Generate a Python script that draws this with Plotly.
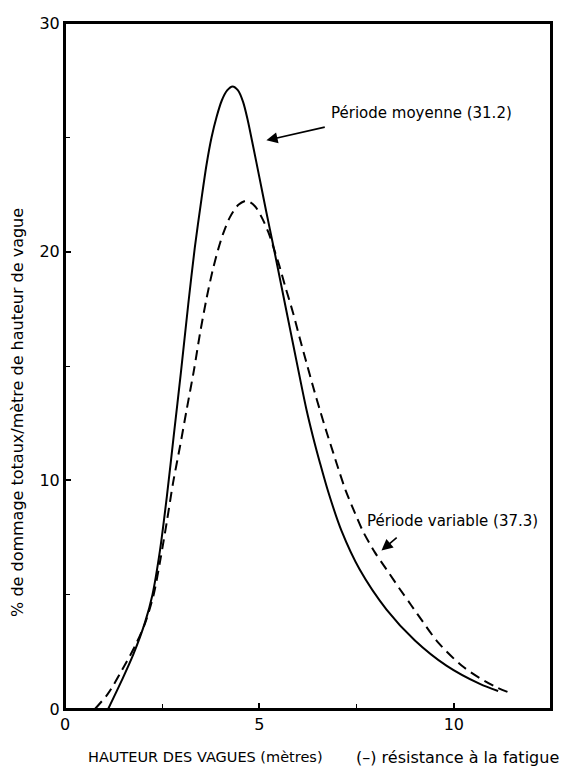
import plotly.graph_objects as go

# Solid curve: Période moyenne (31.2)
moy_x = [1.11, 1.46, 1.76, 2.06, 2.25, 2.44, 2.62, 2.80, 2.98, 3.17, 3.34, 3.51, 3.64, 3.77, 3.90,
         4.03, 4.17, 4.31, 4.45, 4.58, 4.70, 4.84, 5.00, 5.17, 5.36, 5.53, 5.70, 5.87, 6.04, 6.21,
         6.38, 6.56, 6.77, 7.11, 7.58, 8.27, 9.00, 9.81, 10.67, 11.14]
moy_y = [0.0, 1.25, 2.4, 3.8, 5.0, 6.9, 9.3, 12.0, 14.7, 17.7, 20.2, 22.3, 23.8, 25.0, 25.9,
         26.6, 27.05, 27.22, 27.05, 26.55, 25.75, 24.6, 23.25, 21.8, 20.24, 18.8, 17.36, 15.93, 14.49, 13.1,
         11.9, 10.75, 9.5, 7.8, 6.1, 4.35, 3.0, 1.9, 1.1, 0.79]

# Dashed curve: Période variable (37.3)
var_x = [0.77, 1.11, 1.46, 1.80, 2.06, 2.28, 2.46, 2.62, 2.78, 2.96, 3.13, 3.32, 3.47, 3.64, 3.80,
         3.94, 4.07, 4.24, 4.46, 4.67, 4.88, 5.06, 5.23, 5.36, 5.51, 5.66, 5.87, 6.04, 6.21, 6.38,
         6.56, 6.73, 6.90, 7.07, 7.22, 7.45, 7.67, 7.97, 8.27, 8.61, 8.90, 9.21, 9.60, 10.20, 10.67,
         11.10, 11.48]
var_y = [0.0, 0.68, 1.68, 2.75, 3.75, 5.0, 6.6, 8.2, 9.9, 11.5, 13.1, 14.85, 16.4, 17.95, 19.2,
         20.1, 20.8, 21.5, 22.05, 22.23, 22.0, 21.5, 20.85, 20.2, 19.4, 18.5, 17.3, 16.2, 15.15, 14.1,
         13.05, 12.1, 11.2, 10.3, 9.55, 8.6, 7.75, 6.85, 6.1, 5.25, 4.55, 3.8, 2.9, 1.9, 1.35,
         0.95, 0.68]

x_ticks = [0, 5, 10]
y_ticks = [0, 10, 20, 30]

FONT = "DejaVu Sans, Verdana, sans-serif"

fig = go.Figure()
fig.add_trace(go.Scatter(x=moy_x, y=moy_y, mode="lines",
                         line=dict(color="black", width=2, shape="spline", smoothing=0.8),
                         showlegend=False, hoverinfo="skip"))
fig.add_trace(go.Scatter(x=var_x, y=var_y, mode="lines",
                         line=dict(color="black", width=2, dash="10px,6px", shape="spline", smoothing=0.8),
                         showlegend=False, hoverinfo="skip"))

axis_common = dict(showline=True, linecolor="black", linewidth=2, mirror=True,
                   ticks="inside", ticklen=6, tickwidth=1.5, tickcolor="black",
                   showgrid=False, zeroline=False, ticklabeloverflow="allow",
                   tickfont=dict(family=FONT, size=16, color="black"))

fig.update_xaxes(range=[0, 12.5], tickvals=x_ticks, ticktext=[str(v) for v in x_ticks],
                 minor=dict(ticks="inside", ticklen=5, tickwidth=1.2, tickcolor="black", dtick=2.5, tick0=0),
                 **axis_common)
fig.update_yaxes(range=[0, 30], tickvals=y_ticks, ticktext=[str(v) for v in y_ticks],
                 minor=dict(ticks="inside", ticklen=5, tickwidth=1.2, tickcolor="black", dtick=5, tick0=0),
                 **axis_common)

# The page body has an 8px margin, so the figure starts at (8, 8) in the window.
OFF = 8
W, H = 575 - OFF, 769 - OFF
L, R, T, B = 65 - OFF, 24, 14 - OFF, 60
pw, ph = W - L - R, H - T - B

def px(xp):
    return (xp - OFF - L) / pw

def py(yp):
    return (H - B - (yp - OFF)) / ph

annotations = [
    # Période moyenne arrow + label
    dict(x=5.18, y=24.87, ax=6.72, ay=25.46, xref="x", yref="y", axref="x", ayref="y",
         text="", showarrow=True, arrowhead=2, arrowsize=1.4, arrowwidth=1.6, arrowcolor="black",
         standoff=0, startstandoff=0),
    dict(x=6.79, y=26.05, xref="x", yref="y", text="Période moyenne (31.2)", showarrow=False,
         xanchor="left", yanchor="middle", font=dict(family=FONT, size=15, color="black")),
    # Période variable arrow + label
    dict(x=8.14, y=6.93, ax=8.57, ay=7.55, xref="x", yref="y", axref="x", ayref="y",
         text="", showarrow=True, arrowhead=2, arrowsize=1.4, arrowwidth=1.6, arrowcolor="black",
         standoff=0, startstandoff=0),
    dict(x=7.71, y=8.24, xref="x", yref="y", text="Période variable (37.3)", showarrow=False,
         xanchor="left", yanchor="middle", font=dict(family=FONT, size=15, color="black")),
    # axis titles
    dict(x=px(86), y=py(758), xref="paper", yref="paper", text="HAUTEUR DES VAGUES (mètres)",
         showarrow=False, xanchor="left", yanchor="middle", font=dict(family=FONT, size=14.5, color="black")),
    dict(x=px(561), y=py(758), xref="paper", yref="paper", text="(–) résistance à la fatigue",
         showarrow=False, xanchor="right", yanchor="middle", font=dict(family=FONT, size=16, color="black")),
    dict(x=px(18), y=py(409), xref="paper", yref="paper",
         text="% de dommage totaux/mètre de hauteur de vague", textangle=-90,
         showarrow=False, xanchor="center", yanchor="middle", font=dict(family=FONT, size=16, color="black")),
]

shapes = [dict(type="rect", xref="paper", yref="paper", x0=0, y0=0, x1=1, y1=1,
               line=dict(color="black", width=2), fillcolor="rgba(0,0,0,0)", layer="above")]

fig.update_layout(width=W, height=H, margin=dict(l=L, r=R, t=T, b=B),
                  paper_bgcolor="white", plot_bgcolor="white",
                  annotations=annotations, shapes=shapes, showlegend=False)

fig.write_html("out.html")
